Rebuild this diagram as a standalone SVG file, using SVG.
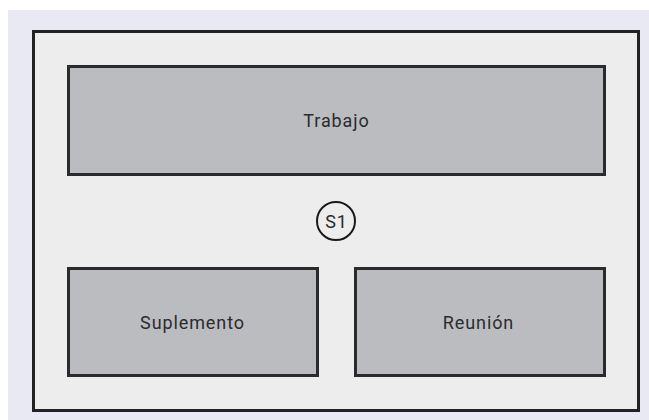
<svg xmlns="http://www.w3.org/2000/svg" width="649" height="420" viewBox="0 0 649 420">
<style>
.box{fill:#BBBCC0;stroke:#2b2b2d;stroke-width:3}
.lbl{font-family:"Roboto","Liberation Sans",sans-serif;font-size:18px;letter-spacing:0.9px;fill:#2b2b2d;text-anchor:middle;dominant-baseline:central}
</style>
<rect x="0" y="0" width="649" height="420" fill="#ffffff"/>
<rect x="8" y="10" width="641" height="410" fill="#E9E9F3"/>
<rect x="33.5" y="31.5" width="605" height="379" fill="#EDEDED" stroke="#222224" stroke-width="3"/>
<g id="trabajo">
<rect class="box" x="68.5" y="66.5" width="536" height="108"/>
<text class="lbl" x="336.5" y="120">Trabajo</text>
</g>
<g id="s1">
<circle cx="336" cy="221" r="19" fill="none" stroke="#1a1a1a" stroke-width="2"/>
<text class="lbl" x="336.5" y="221">S1</text>
</g>
<g id="suplemento">
<rect class="box" x="68.5" y="268.5" width="249" height="107"/>
<text class="lbl" x="192.5" y="322">Suplemento</text>
</g>
<g id="reunion">
<rect class="box" x="355.5" y="268.5" width="249" height="107"/>
<text class="lbl" x="478.5" y="322">Reunión</text>
</g>
<g id="connectors"/>
</svg>
